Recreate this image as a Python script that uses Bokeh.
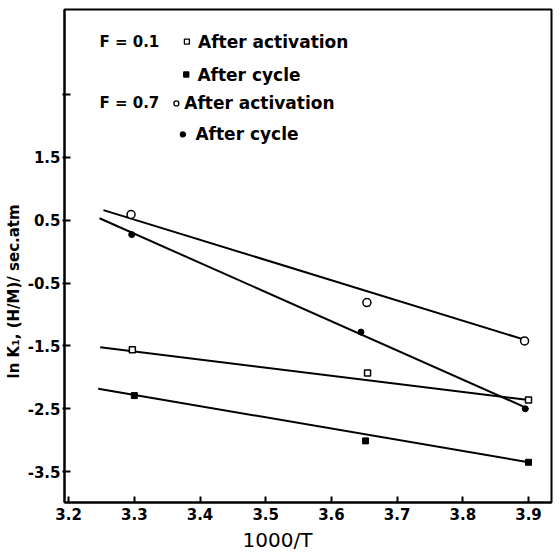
from bokeh.plotting import figure
from bokeh.models import FixedTicker, Label, Range1d, Title
from bokeh.embed import file_html
from bokeh.resources import INLINE

# ---- data ----
x_ticks = [3.2, 3.3, 3.4, 3.5, 3.6, 3.7, 3.8, 3.9]
y_ticks = [2.5, 1.5, 0.5, -0.5, -1.5, -2.5, -3.5]
y_tick_labels = ["", "1.5", "0.5", "-0.5", "-1.5", "-2.5", "-3.5"]

f01_act_x = [3.297, 3.655, 3.900]
f01_act_y = [-1.56, -1.93, -2.36]
f01_cyc_x = [3.300, 3.652, 3.900]
f01_cyc_y = [-2.29, -3.01, -3.35]
f07_act_x = [3.295, 3.654, 3.894]
f07_act_y = [0.59, -0.81, -1.42]
f07_cyc_x = [3.296, 3.645, 3.895]
f07_cyc_y = [0.27, -1.28, -2.50]

# drawn straight lines (end points)
f07_act_fit_x = [3.253, 3.900]
f07_act_fit_y = [0.66, -1.42]
f07_cyc_fit_x = [3.247, 3.900]
f07_cyc_fit_y = [0.53, -2.50]
f01_act_fit_x = [3.248, 3.900]
f01_act_fit_y = [-1.52, -2.36]
f01_cyc_fit_x = [3.245, 3.900]
f01_cyc_fit_y = [-2.18, -3.35]

FONT = "DejaVu Sans"

p = figure(width=555, height=555, output_backend="svg", toolbar_location=None,
           x_range=Range1d(3.1937, 3.935), y_range=Range1d(-3.99, 3.85),
           min_border_left=63, min_border_right=4, min_border_top=9,
           min_border_bottom=52)
p.background_fill_color = "white"
p.border_fill_color = "white"
p.xgrid.visible = False
p.ygrid.visible = False
p.outline_line_color = "black"
p.outline_line_width = 2

for ax in (p.xaxis[0], p.yaxis[0]):
    ax.axis_line_width = 2
    ax.axis_line_color = "black"
    ax.major_tick_line_width = 2
    ax.minor_tick_line_color = None
    ax.major_label_text_font = FONT
    ax.major_label_text_font_style = "bold"
    ax.major_label_text_font_size = "15px"
    ax.major_label_text_color = "black"

p.xaxis.ticker = FixedTicker(ticks=x_ticks)
p.xaxis.major_tick_in = 6
p.xaxis.major_tick_out = 0
p.xaxis.major_label_standoff = 5

p.yaxis.ticker = FixedTicker(ticks=y_ticks)
p.yaxis.major_label_overrides = {t: l for t, l in zip(y_ticks, y_tick_labels)}
p.yaxis.major_tick_in = 6
p.yaxis.major_tick_out = 2
p.yaxis.major_label_standoff = 2

# axis titles
p.add_layout(Title(text="1000/T", align="left", offset=178, standoff=7,
                   text_font=FONT, text_font_style="normal",
                   text_font_size="20px", text_color="black"), "below")
p.add_layout(Title(text="ln K\u2081, (H/M)/ sec.atm", align="left", offset=124,
                   standoff=4, text_font=FONT, text_font_style="bold",
                   text_font_size="15px", text_color="black"), "left")

# fitted lines
for fx, fy in [(f07_act_fit_x, f07_act_fit_y), (f07_cyc_fit_x, f07_cyc_fit_y),
               (f01_act_fit_x, f01_act_fit_y), (f01_cyc_fit_x, f01_cyc_fit_y)]:
    p.line(fx, fy, line_color="black", line_width=2)

# data points
p.scatter(f01_act_x, f01_act_y, marker="square", size=6, fill_color="white",
          line_color="black", line_width=1.5)
p.scatter(f01_cyc_x, f01_cyc_y, marker="square", size=6, fill_color="black",
          line_color="black")
p.scatter(f07_act_x, f07_act_y, marker="circle", size=8, fill_color="white",
          line_color="black", line_width=1.5)
p.scatter(f07_cyc_x, f07_cyc_y, marker="circle", size=6, fill_color="black",
          line_color="black")

# hand-made legend
leg_y = [3.34, 2.816, 2.356, 1.864]
leg_marker_x = [3.380, 3.379, 3.364, 3.374]
leg_text_x = [3.397, 3.396, 3.376, 3.393]
leg_texts = ["After activation", "After cycle", "After activation", "After cycle"]
leg_markers = ["square", "square", "circle", "circle"]
leg_fill = ["white", "black", "white", "black"]
for mx, my, mk, fc in zip(leg_marker_x, leg_y, leg_markers, leg_fill):
    p.scatter([mx], [my], marker=mk, size=5, fill_color=fc, line_color="black",
              line_width=1.3)
for tx, ty, tt in zip(leg_text_x, leg_y, leg_texts):
    p.add_layout(Label(x=tx, y=ty, text=tt, text_font=FONT,
                       text_font_style="bold", text_font_size="17px",
                       text_baseline="middle", text_align="left",
                       text_color="black"))
for tx, ty, tt in [(3.2469, leg_y[0], "F = 0.1"), (3.2469, leg_y[2], "F = 0.7")]:
    p.add_layout(Label(x=tx, y=ty, text=tt, text_font=FONT,
                       text_font_style="bold", text_font_size="15px",
                       text_baseline="middle", text_align="left",
                       text_color="black"))

open("out.html", "w").write(file_html(p, INLINE))
